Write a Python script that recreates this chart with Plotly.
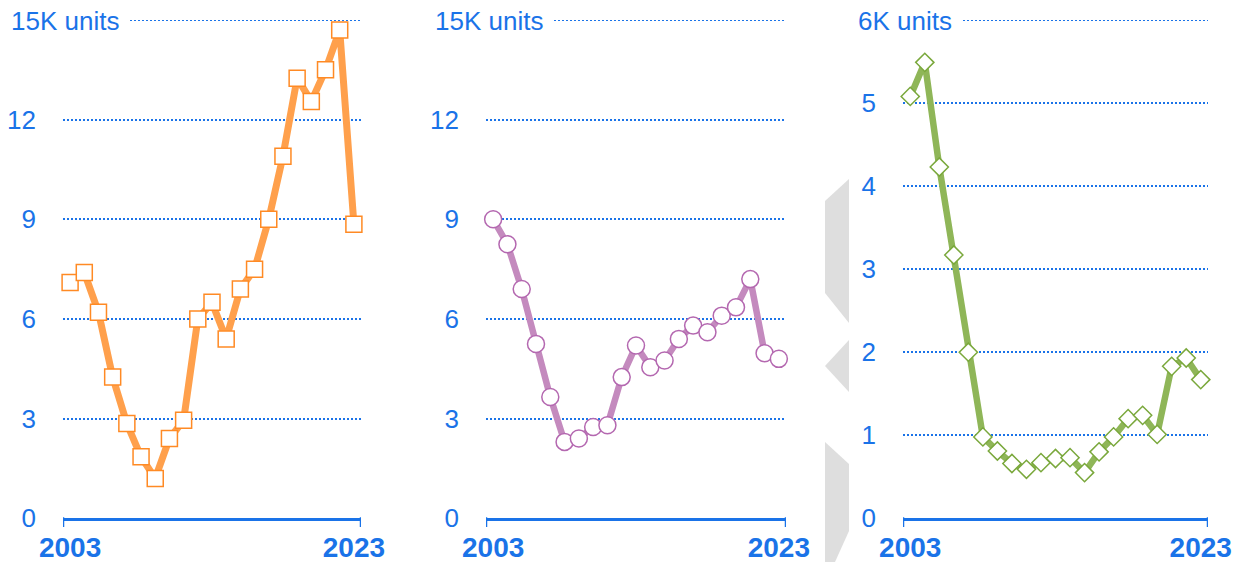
import plotly.graph_objects as go

# Years on the horizontal axis (one category per year)
years = [2003, 2004, 2005, 2006, 2007, 2008, 2009, 2010, 2011, 2012, 2013,
         2014, 2015, 2016, 2017, 2018, 2019, 2020, 2021, 2022, 2023]

# Series values, thousands of units
orange_vals = [7.1, 7.4, 6.2, 4.25, 2.85, 1.85, 1.2, 2.4, 2.95, 6.0, 6.5,
               5.4, 6.9, 7.5, 9.0, 10.9, 13.25, 12.55, 13.5, 14.7, 8.85]
purple_vals = [9.0, 8.25, 6.9, 5.25, 3.65, 2.3, 2.4, 2.75, 2.8, 4.25, 5.2,
               4.55, 4.75, 5.4, 5.8, 5.6, 6.1, 6.35, 7.2, 4.97, 4.8]
green_vals = [5.08, 5.49, 4.23, 3.17, 2.0, 0.98, 0.81, 0.66, 0.59, 0.67, 0.72,
              0.73, 0.55, 0.8, 0.98, 1.2, 1.24, 1.01, 1.83, 1.93, 1.67]

# Axis labelling
y_ticks_15k = [0, 3, 6, 9, 12]
y_ticks_6k = [0, 1, 2, 3, 4, 5]
x_tick_vals = [2003, 2023]
x_tick_text = ["2003", "2023"]
top_labels = ["15K units", "15K units", "6K units"]
y_max = [15, 15, 6]

W, H = 1238, 562
BLUE = "#1a73e8"
FONT = "Liberation Sans, Arial, sans-serif"


def px_x(p):
    return p / W


def px_y(p):
    return 1 - p / H


# Plot areas in pixels: (left, right)
panels = [(63, 361), (486, 786), (903, 1208)]
plot_top, plot_bottom = 20, 518.3
# where the top gridline starts (after its unit label) and label right edge
top_grid_start = [130, 554, 963]
top_label_right = [121, 545, 954]

series = [
    dict(vals=orange_vals, line="#ffa04c", mcolor="#ff8a24", symbol="square", size=16, width=7),
    dict(vals=purple_vals, line="#c48abe", mcolor="#b468b0", symbol="circle", size=17, width=6.5),
    dict(vals=green_vals, line="#8fb658", mcolor="#7aa83c", symbol="diamond", size=14, width=6.5),
]

fig = go.Figure()
shapes = []
annotations = []

for i, (s, (left, right)) in enumerate(zip(series, panels)):
    n = "" if i == 0 else str(i + 1)
    fig.add_trace(go.Scatter(
        x=years, y=s["vals"], mode="lines+markers",
        xaxis="x" + n, yaxis="y" + n,
        line=dict(color=s["line"], width=s["width"]),
        marker=dict(symbol=s["symbol"], size=s["size"], color="white",
                    line=dict(color=s["mcolor"], width=1.5)),
        cliponaxis=False, hoverinfo="x+y",
    ))
    xdom = [px_x(left), px_x(right)]
    ydom = [px_y(plot_bottom), px_y(plot_top)]
    fig.layout["xaxis" + n] = dict(
        domain=xdom, anchor="y" + n, range=[2002.5, 2023.5],
        tickvals=x_tick_vals, ticktext=x_tick_text, ticks="",
        showline=True, linecolor=BLUE, linewidth=2.5,
        showgrid=False, zeroline=False, fixedrange=True, automargin=False,
        tickfont=dict(family=FONT, size=28, color=BLUE, weight="bold"),
        ticklabelstandoff=2,
    )
    fig.layout["yaxis" + n] = dict(
        domain=ydom, anchor="x" + n, range=[0, y_max[i]],
        tickvals=y_ticks_15k if i < 2 else y_ticks_6k,
        ticks="", showline=False, zeroline=False,
        showgrid=True, gridcolor=BLUE, gridwidth=2, griddash="2px,2px",
        tickfont=dict(family=FONT, size=26, color=BLUE),
        ticklabelstandoff=26, fixedrange=True, automargin=False,
    )
    # end ticks of the x axis at the band edges
    for xv in (2002.5, 2023.5):
        shapes.append(dict(type="line", xref="x" + n, yref="paper",
                           x0=xv, x1=xv, y0=px_y(plot_bottom - 1), y1=px_y(527),
                           line=dict(color=BLUE, width=2.5)))
    # top gridline, starting after its unit label
    shapes.append(dict(type="line", xref="paper", yref="y" + n,
                       x0=px_x(top_grid_start[i]), x1=px_x(right),
                       y0=y_max[i], y1=y_max[i],
                       line=dict(color=BLUE, width=2, dash="2px,2px"), layer="below"))
    annotations.append(dict(text=top_labels[i], xref="paper", yref="y" + n,
                            x=px_x(top_label_right[i]), y=y_max[i],
                            xanchor="right", yanchor="middle", showarrow=False,
                            yshift=-1,
                            font=dict(family=FONT, size=26, color=BLUE)))

# light grey chevron pieces between the second and third panels
GREY = "#dedede"
polys = [
    [(849, 179), (825, 201), (825, 293), (849, 323)],
    [(849, 340), (825, 366), (849, 392)],
    [(825, 442), (849, 464), (849, 531), (835, 562), (825, 562)],
]
for poly in polys:
    path = "M " + " L ".join(f"{px_x(a):.5f},{px_y(b):.5f}" for a, b in poly) + " Z"
    shapes.append(dict(type="path", xref="paper", yref="paper", path=path,
                       fillcolor=GREY, line=dict(width=0), layer="below"))

fig.update_layout(
    width=W, height=H, margin=dict(l=0, r=0, t=0, b=0, autoexpand=False),
    paper_bgcolor="white", plot_bgcolor="white", showlegend=False,
    shapes=shapes, annotations=annotations,
    font=dict(family=FONT, color=BLUE),
)

fig.write_html("out.html", config={"displayModeBar": False})
